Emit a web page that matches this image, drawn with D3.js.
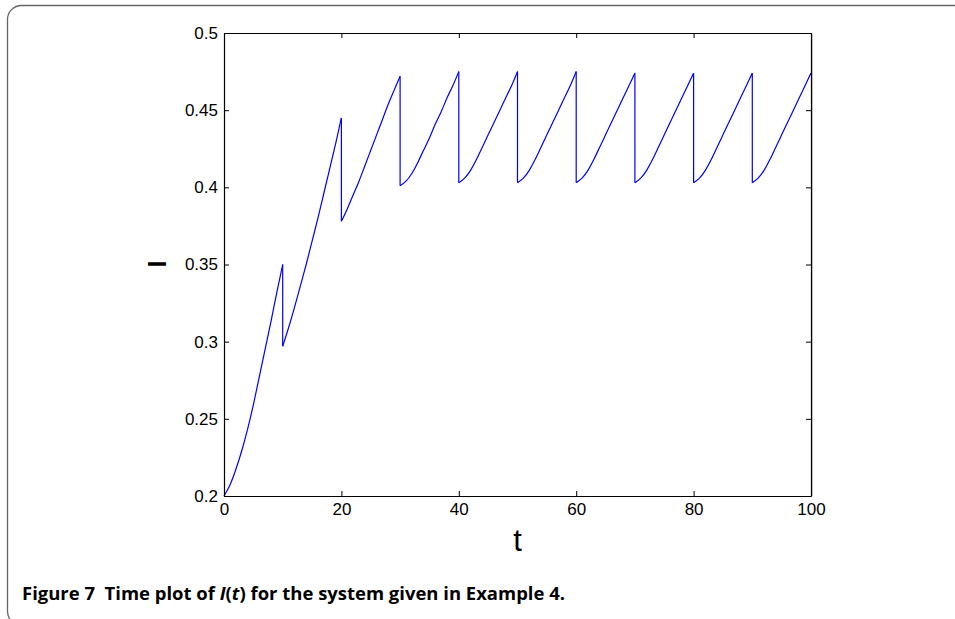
<!DOCTYPE html>
<html>
<head>
<meta charset="utf-8">
<script src="https://cdn.jsdelivr.net/npm/d3@7/dist/d3.min.js"></script>
<style>
  body { margin: 0; background: #fff; }
  svg { display: block; }
</style>
</head>
<body>
<div id="chart"></div>
<script>
// segment start times (a pulse every 10 time units) and time offsets inside a segment
var segStarts = [0, 10, 20, 30, 40, 50, 60, 70, 80, 90];
var offsets = [0, 1, 2, 3, 4, 5, 6, 7, 8, 9, 10];

// I(t), one array per segment between jumps
var seg0 = [0.200, 0.207, 0.217, 0.229, 0.243, 0.259, 0.277, 0.295, 0.313, 0.332, 0.350];
var seg1 = [0.297, 0.309, 0.322, 0.336, 0.350, 0.365, 0.380, 0.396, 0.412, 0.428, 0.445];
var seg2 = [0.378, 0.386, 0.395, 0.404, 0.414, 0.424, 0.434, 0.444, 0.454, 0.463, 0.472];
var seg3 = [0.401, 0.404, 0.409, 0.416, 0.424, 0.432, 0.441, 0.449, 0.458, 0.466, 0.475];
var seg4 = [0.403, 0.406, 0.411, 0.418, 0.426, 0.434, 0.442, 0.450, 0.458, 0.466, 0.475];
var seg5 = [0.403, 0.406, 0.411, 0.418, 0.426, 0.434, 0.442, 0.450, 0.458, 0.466, 0.475];
var seg6 = [0.403, 0.406, 0.411, 0.418, 0.426, 0.434, 0.442, 0.450, 0.458, 0.466, 0.474];
var seg7 = [0.403, 0.406, 0.411, 0.418, 0.426, 0.434, 0.442, 0.450, 0.458, 0.466, 0.474];
var seg8 = [0.403, 0.406, 0.411, 0.418, 0.426, 0.434, 0.442, 0.450, 0.458, 0.466, 0.474];
var seg9 = [0.403, 0.406, 0.411, 0.418, 0.426, 0.434, 0.442, 0.450, 0.458, 0.466, 0.474];
var segments = [seg0, seg1, seg2, seg3, seg4, seg5, seg6, seg7, seg8, seg9];

var xTicks = [0, 20, 40, 60, 80, 100];
var yTicks = [0.2, 0.25, 0.3, 0.35, 0.4, 0.45, 0.5];
var yTickLabels = ["0.2", "0.25", "0.3", "0.35", "0.4", "0.45", "0.5"];

function drawChart(){
	var W = 955, H = 619;
	var pLeft = 224, pRight = 811, pTop = 33, pBottom = 496;

	var svg = d3.select("#chart").append("svg")
		.attr("width", W)
		.attr("height", H)

	// rounded figure frame
	svg.append("rect")
		.attr("x", 7.5).attr("y", 5.5)
		.attr("width", 1000).attr("height", 620)
		.attr("rx", 14)
		.attr("fill", "none")
		.attr("stroke", "#666")
		.attr("stroke-width", 1.3)

	var x = d3.scaleLinear().domain([0, 100]).range([pLeft, pRight]);
	var y = d3.scaleLinear().domain([0.2, 0.5]).range([pBottom, pTop]);

	var line = d3.line()
		.x(function(d){ return x(d[0]); })
		.y(function(d){ return y(d[1]); })
		.curve(d3.curveNatural)

	// each segment as a smooth curve, then the vertical jumps
	var g = svg.append("g");
	segments.forEach(function(seg, k){
		var p = seg.map(function(v, i){ return [segStarts[k] + offsets[i], v]; });
		g.append("path")
			.attr("d", line(p))
			.attr("fill", "none")
			.attr("stroke", "#0000ff")
			.attr("stroke-width", 1.2)
	});
	for (var k = 1; k < segments.length; k++) {
		var prev = segments[k - 1];
		g.append("line")
			.attr("x1", x(segStarts[k])).attr("x2", x(segStarts[k]))
			.attr("y1", y(prev[prev.length - 1]))
			.attr("y2", y(segments[k][0]))
			.attr("stroke", "#0000ff")
			.attr("stroke-width", 1.2)
	}

	// axes, ticks pointing inward like matlab
	var fontFam = "'Liberation Sans', Arial, Helvetica, sans-serif";

	svg.append("g")
		.attr("transform", "translate(0," + pBottom + ")")
		.call(d3.axisBottom(x).tickValues(xTicks).tickSizeInner(-5).tickSizeOuter(0).tickPadding(7).tickFormat(d3.format("d")))
	svg.append("g")
		.attr("transform", "translate(" + pLeft + ",0)")
		.call(d3.axisLeft(y).tickValues(yTicks).tickSizeInner(-5).tickSizeOuter(0).tickPadding(6)
			.tickFormat(function(d, i){ return yTickLabels[i]; }))
	svg.append("g")
		.attr("transform", "translate(0," + pTop + ")")
		.call(d3.axisTop(x).tickValues(xTicks).tickSizeInner(-5).tickSizeOuter(0).tickFormat(""))
	svg.append("g")
		.attr("transform", "translate(" + pRight + ",0)")
		.call(d3.axisRight(y).tickValues(yTicks).tickSizeInner(-5).tickSizeOuter(0).tickFormat(""))

	svg.selectAll(".domain").attr("stroke", "#000").attr("stroke-width", 1.2);
	svg.selectAll(".tick line").attr("stroke", "#000").attr("stroke-width", 1);
	svg.selectAll(".tick text")
		.style("font-family", fontFam)
		.style("font-size", "17px")
		.attr("fill", "#000")

	// faint shadow along the right edge
	svg.append("line")
		.attr("x1", pRight + 1.5).attr("x2", pRight + 1.5)
		.attr("y1", pTop + 1).attr("y2", pBottom)
		.attr("stroke", "#bbb").attr("stroke-width", 1)

	// axis labels
	svg.append("text")
		.attr("x", x(50)).attr("y", 551)
		.attr("text-anchor", "middle")
		.style("font-family", fontFam)
		.style("font-size", "31px")
		.text("t")

	svg.append("text")
		.attr("transform", "translate(166,264) rotate(-90)")
		.attr("text-anchor", "middle")
		.style("font-family", fontFam)
		.style("font-size", "25px")
		.style("font-weight", "bold")
		.text("I")

	// caption
	var cap = svg.append("text")
		.attr("x", 22).attr("y", 600)
		.style("font-family", "'Open Sans', 'Noto Sans', sans-serif")
		.style("font-weight", "bold")
		.style("font-size", "17px")
		.attr("textLength", 543)
		.attr("lengthAdjust", "spacingAndGlyphs")
	cap.append("tspan").text("Figure 7\u00a0\u00a0Time plot of ");
	cap.append("tspan").style("font-style", "italic").text("I");
	cap.append("tspan").text("(");
	cap.append("tspan").style("font-style", "italic").text("t");
	cap.append("tspan").text(") for the system given in Example 4.");
}

drawChart();
</script>
</body>
</html>
